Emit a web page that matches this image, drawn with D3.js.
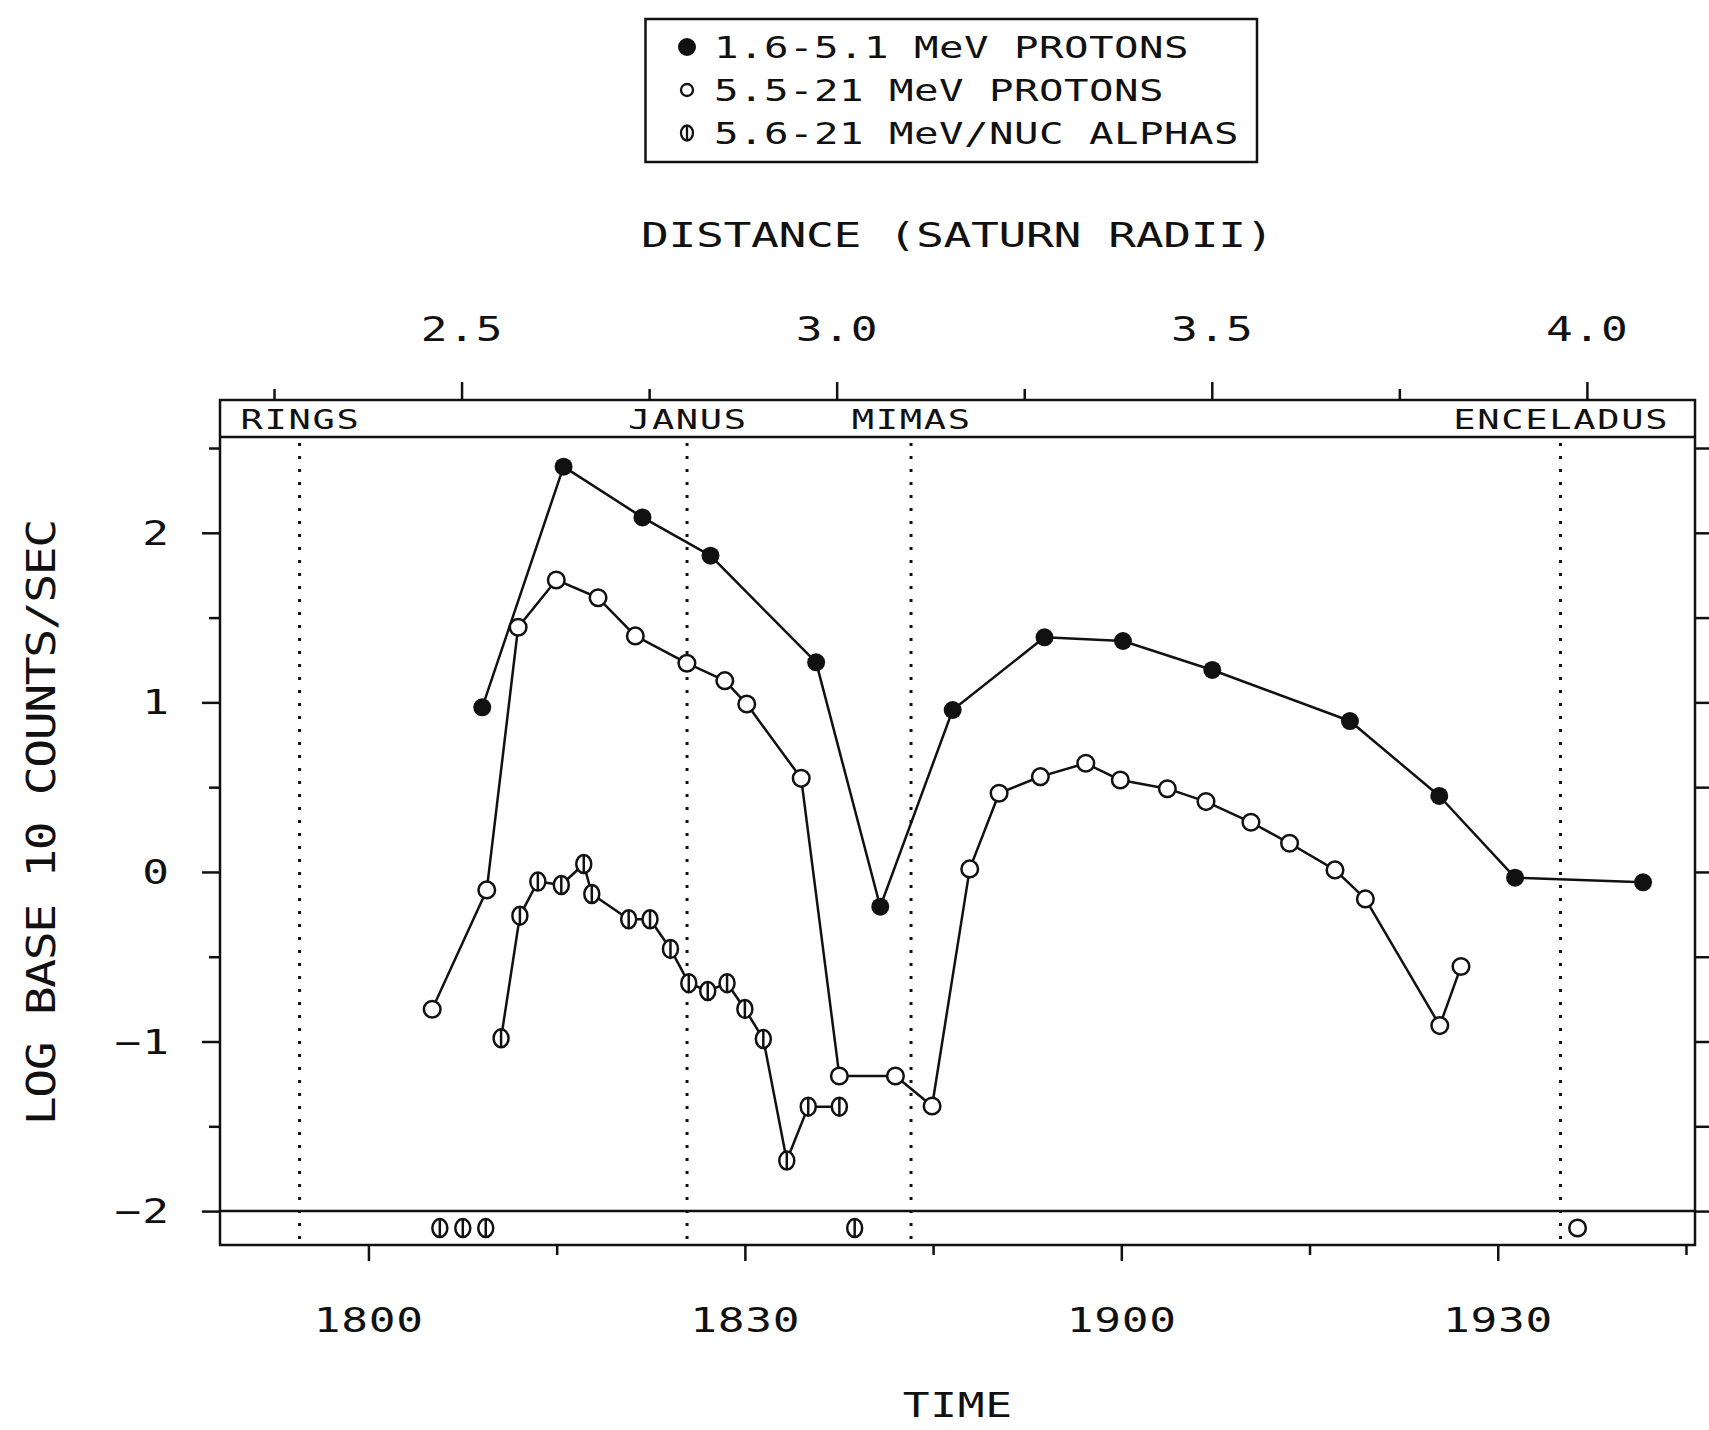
<!DOCTYPE html>
<html>
<head>
<meta charset="utf-8">
<script src="https://cdn.jsdelivr.net/npm/d3@7"></script>
<style>
  html, body { margin: 0; padding: 0; background: #fff; }
  svg { display: block; }
</style>
</head>
<body>
<script>
// ---------------- DATA (time in minutes after 18:00, value = log10 counts/sec) ----------------
const lowProtonTimes   = [9.07, 15.55, 21.84, 27.26, 35.68, 40.79, 46.56, 53.88, 60.13, 67.25, 78.22, 85.34, 91.38, 101.58];
const lowProtonValues  = [0.971, 2.39, 2.091, 1.865, 1.236, -0.205, 0.955, 1.384, 1.362, 1.191, 0.89, 0.448, -0.034, -0.061];

const highProtonTimes  = [5.08, 9.43, 11.93, 14.97, 18.3, 21.27, 25.38, 28.4, 30.15, 34.49, 37.53, 42.0, 44.92,
                          47.92, 50.26, 53.55, 57.17, 59.92, 63.67, 66.75, 70.33, 73.41, 77.03, 79.45, 85.38, 87.07];
const highProtonValues = [-0.81, -0.106, 1.443, 1.722, 1.617, 1.392, 1.231, 1.128, 0.99, 0.552, -1.203, -1.203, -1.38,
                          0.018, 0.464, 0.562, 0.641, 0.542, 0.491, 0.415, 0.293, 0.169, 0.012, -0.159, -0.906, -0.558];

const alphaTimes       = [10.57, 12.07, 13.5, 15.37, 17.16, 17.8, 20.74, 22.44, 24.07, 25.53, 27.04, 28.58, 30.0, 31.47, 33.34, 35.05, 37.53];
const alphaValues      = [-0.981, -0.258, -0.057, -0.077, 0.047, -0.13, -0.279, -0.279, -0.454, -0.656, -0.702, -0.656, -0.808, -0.985, -1.702, -1.384, -1.384];

// points below the -2 floor, plotted in the bottom strip
const alphaFloorTimes      = [5.69, 7.52, 9.35, 38.75];
const highProtonFloorTimes = [96.36];
const floorValue = -2.1;

const eventNames = ["RINGS", "JANUS", "MIMAS", "ENCELADUS"];
const eventTimes = [-5.49, 25.39, 43.24, 95.0];

const timeMajorTicks  = [0, 30, 60, 90];
const timeTickLabels  = ["1800", "1830", "1900", "1930"];
const timeMinorTicks  = [15, 45, 75, 105];

const distMajorTicks  = [2.5, 3.0, 3.5, 4.0];
const distTickLabels  = ["2.5", "3.0", "3.5", "4.0"];
const distMinorTicks  = [2.25, 2.75, 3.25, 3.75];

const yMajorTicks     = [2, 1, 0, -1, -2];
const yTickLabels     = ["2", "1", "0", "\u22121", "\u22122"];
const yMinorTicks     = [2.5, 1.5, 0.5, -0.5, -1.5];

const legendLabels = ["1.6-5.1 MeV PROTONS", "5.5-21 MeV PROTONS", "5.6-21 MeV/NUC ALPHAS"];
const legendKinds  = ["filled", "open", "alpha"];

// ---------------- LAYOUT ----------------
const W = 1709, H = 1430;
const F = { left: 220, right: 1695, top: 400, band: 437, bottom: 1245 };
const INK = "#111";
const SW = 2.5;

const svg = d3.select("body").append("svg").attr("width", W).attr("height", H);
svg.append("rect").attr("width", W).attr("height", H).attr("fill", "#fff");

const x  = d3.scaleLinear().domain([-11.83, 105.72]).range([F.left, F.right]);
const xd = d3.scaleLinear().domain([2.25, 4.0]).range([274, 1586.9]);
const y  = d3.scaleLinear().domain([-2.2, 2.565]).range([F.bottom, F.band]);

// plotter-like monospaced text helper
const FONT = "'DejaVu Sans Mono', 'Liberation Mono', monospace";
function ptext(parent, str, px, py, o) {
  const cap = o.cap, adv = o.adv, anchor = o.anchor || "middle", rot = o.rotate || 0;
  const sx = o.sx || 1.35;
  const fs = cap / 0.729;
  const cell = 0.602 * fs;
  const ls = adv / sx - cell;
  const n = str.length;
  const Wd = (n - 1) * adv + cell * sx;
  const off = anchor === "middle" ? -Wd / 2 : anchor === "end" ? -Wd : 0;
  parent.append("text")
    .attr("transform", `translate(${px},${py}) rotate(${rot}) translate(${off},${cap / 2}) scale(${sx},1)`)
    .attr("font-family", FONT)
    .attr("font-size", fs)
    .attr("letter-spacing", ls)
    .attr("fill", INK)
    .text(str);
}

// ---------------- LEGEND ----------------
const lg = svg.append("g");
lg.append("rect").attr("x", 645.5).attr("y", 19).attr("width", 611.5).attr("height", 143)
  .attr("fill", "none").attr("stroke", INK).attr("stroke-width", SW);
const legendRows = [47, 90, 133];
legendKinds.forEach((k, i) => {
  const cy = legendRows[i], cx = 687;
  if (k === "filled") lg.append("circle").attr("cx", cx).attr("cy", cy).attr("r", 9).attr("fill", INK);
  else if (k === "open") lg.append("circle").attr("cx", cx).attr("cy", cy).attr("r", 6).attr("fill", "#fff").attr("stroke", INK).attr("stroke-width", 2.3);
  else {
    lg.append("ellipse").attr("cx", cx).attr("cy", cy).attr("rx", 6).attr("ry", 7.5).attr("fill", "#fff").attr("stroke", INK).attr("stroke-width", 2.3);
    lg.append("line").attr("x1", cx).attr("x2", cx).attr("y1", cy - 7.5).attr("y2", cy + 7.5).attr("stroke", INK).attr("stroke-width", 2.3);
  }
  ptext(lg, legendLabels[i], 714, cy, { cap: 22, adv: 25, anchor: "start" });
});

// ---------------- TITLES ----------------
ptext(svg, "DISTANCE (SATURN RADII)", (F.left + F.right) / 2, 234, { cap: 25, adv: 27.5 });
ptext(svg, "TIME", (F.left + F.right) / 2, 1405, { cap: 24, adv: 27.5 });
ptext(svg, "LOG BASE 10 COUNTS/SEC", 41, 822, { cap: 28, adv: 27.5, rotate: -90, sx: 1.25 });

// ---------------- FRAME ----------------
const fr = svg.append("g").attr("stroke", INK).attr("stroke-width", SW).attr("fill", "none");
fr.append("rect").attr("x", F.left).attr("y", F.top).attr("width", F.right - F.left).attr("height", F.bottom - F.top);
fr.append("line").attr("x1", F.left).attr("x2", F.right).attr("y1", F.band).attr("y2", F.band);
fr.append("line").attr("x1", F.left).attr("x2", F.right).attr("y1", y(-2)).attr("y2", y(-2));

// ---------------- AXES ----------------
function styleAxis(g) {
  g.select(".domain").remove();
  g.selectAll(".tick line").attr("stroke", INK).attr("stroke-width", SW);
  g.selectAll(".tick text").remove();
}
// top distance axis
svg.append("g").attr("transform", `translate(0,${F.top})`)
  .call(d3.axisTop(xd).tickValues(distMajorTicks).tickSize(18).tickFormat("")).call(styleAxis);
svg.append("g").attr("transform", `translate(0,${F.top})`)
  .call(d3.axisTop(xd).tickValues(distMinorTicks).tickSize(11).tickFormat("")).call(styleAxis);
distMajorTicks.forEach((d, i) => ptext(svg, distTickLabels[i], xd(d), 329, { cap: 24, adv: 27.5 }));

// bottom time axis
svg.append("g").attr("transform", `translate(0,${F.bottom})`)
  .call(d3.axisBottom(x).tickValues(timeMajorTicks).tickSize(16).tickFormat("")).call(styleAxis);
svg.append("g").attr("transform", `translate(0,${F.bottom})`)
  .call(d3.axisBottom(x).tickValues(timeMinorTicks).tickSize(10).tickFormat("")).call(styleAxis);
timeMajorTicks.forEach((t, i) => ptext(svg, timeTickLabels[i], x(t), 1320, { cap: 24, adv: 27.5 }));

// left value axis
svg.append("g").attr("transform", `translate(${F.left},0)`)
  .call(d3.axisLeft(y).tickValues(yMajorTicks).tickSize(18).tickFormat("")).call(styleAxis);
svg.append("g").attr("transform", `translate(${F.left},0)`)
  .call(d3.axisLeft(y).tickValues(yMinorTicks).tickSize(11).tickFormat("")).call(styleAxis);
yMajorTicks.forEach((v, i) => ptext(svg, yTickLabels[i], 169, y(v), { cap: 24, adv: 27.5, anchor: "end" }));

// right value axis (ticks only)
svg.append("g").attr("transform", `translate(${F.right},0)`)
  .call(d3.axisRight(y).tickValues(yMajorTicks.concat(yMinorTicks)).tickSize(18).tickFormat("")).call(styleAxis);

// ---------------- EVENTS (moons) ----------------
const ev = svg.append("g");
eventTimes.forEach((t, i) => {
  ev.append("line").attr("x1", x(t)).attr("x2", x(t)).attr("y1", F.band + 6).attr("y2", F.bottom)
    .attr("stroke", INK).attr("stroke-width", 3).attr("stroke-dasharray", "3,10");
  ptext(ev, eventNames[i], x(t), 419, { cap: 20, adv: 24 });
});

// ---------------- SERIES ----------------
const zip = (ts, vs) => ts.map((t, i) => ({ t, v: vs[i] }));
const lowP  = zip(lowProtonTimes, lowProtonValues);
const highP = zip(highProtonTimes, highProtonValues);
const alph  = zip(alphaTimes, alphaValues);
const alphFloor = alphaFloorTimes.map(t => ({ t, v: floorValue }));
const highFloor = highProtonFloorTimes.map(t => ({ t, v: floorValue }));

const line = d3.line().x(d => x(d.t)).y(d => y(d.v));
const lines = svg.append("g").attr("fill", "none").attr("stroke", INK).attr("stroke-width", SW).attr("stroke-linejoin", "round");
[lowP, highP, alph].forEach(s => lines.append("path").attr("d", line(s)));

const mk = svg.append("g");
function filled(data) {
  mk.selectAll(null).data(data).enter().append("circle")
    .attr("cx", d => x(d.t)).attr("cy", d => y(d.v)).attr("r", 9).attr("fill", INK);
}
function open(data) {
  mk.selectAll(null).data(data).enter().append("circle")
    .attr("cx", d => x(d.t)).attr("cy", d => y(d.v)).attr("r", 8.3)
    .attr("fill", "#fff").attr("stroke", INK).attr("stroke-width", SW);
}
function alpha(data) {
  const g = mk.selectAll(null).data(data).enter().append("g")
    .attr("transform", d => `translate(${x(d.t)},${y(d.v)})`);
  g.append("ellipse").attr("rx", 7.5).attr("ry", 9).attr("fill", "#fff").attr("stroke", INK).attr("stroke-width", SW);
  g.append("line").attr("y1", -9).attr("y2", 9).attr("stroke", INK).attr("stroke-width", SW);
}
filled(lowP);
open(highP);
open(highFloor);
alpha(alph);
alpha(alphFloor);
</script>
</body>
</html>
